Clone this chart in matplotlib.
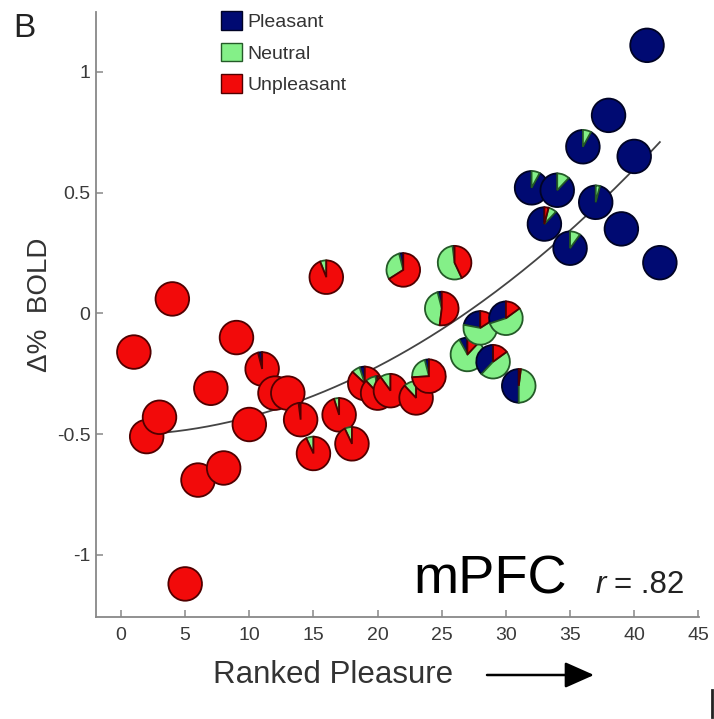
import matplotlib
matplotlib.use("Agg")
import matplotlib.pyplot as plt
import numpy as np
from matplotlib.patches import Wedge, Patch, FancyArrowPatch
from matplotlib.lines import Line2D
from matplotlib.transforms import ScaledTranslation

plt.rcParams['font.family'] = ['Liberation Sans', 'DejaVu Sans']

# ranked pleasure (x) and BOLD change (y) for every picture
rank = list(range(1, 43))
bold = [-0.16, -0.51, -0.43, 0.06, -1.12, -0.69, -0.31, -0.64, -0.10, -0.46,
        -0.23, -0.33, -0.33, -0.44, -0.58, 0.15, -0.42, -0.54, -0.29, -0.33,
        -0.32, 0.18, -0.35, -0.26, 0.02, 0.21, -0.17, -0.06, -0.20, -0.02,
        -0.30, 0.52, 0.37, 0.51, 0.27, 0.69, 0.46, 0.82, 0.35, 0.65,
        1.11, 0.21]

# share of subjects rating each picture pleasant / neutral / unpleasant
share_pleasant = [0, 0, 0, 0, 0, 0, 0, 0, 0, 0,
                  0.04, 0, 0, 0.02, 0, 0, 0, 0, 0.05, 0.02,
                  0, 0.04, 0, 0.04, 0.04, 0.02, 0.08, 0.22, 0.38, 0.30,
                  0.50, 0.92, 0.88, 0.88, 0.90, 0.92, 0.96, 1, 1, 1,
                  1, 1]
share_neutral = [0, 0, 0, 0, 0, 0, 0, 0, 0, 0,
                 0, 0, 0, 0, 0.07, 0.06, 0.05, 0.07, 0.08, 0.10,
                 0.10, 0.30, 0.12, 0.22, 0.44, 0.55, 0.80, 0.62, 0.47, 0.55,
                 0.48, 0.08, 0.08, 0.12, 0.10, 0.08, 0.04, 0, 0, 0,
                 0, 0]
share_unpleasant = [1, 1, 1, 1, 1, 1, 1, 1, 1, 1,
                    0.96, 1, 1, 0.98, 0.93, 0.94, 0.95, 0.93, 0.87, 0.88,
                    0.90, 0.66, 0.88, 0.74, 0.52, 0.43, 0.12, 0.16, 0.15, 0.15,
                    0.02, 0, 0.04, 0, 0, 0, 0, 0, 0, 0,
                    0, 0]

# fitted curve as printed (quadratic, coefficients)
fit_coef = [0.000668, 0.000835, -0.504]
fit_range = [1, 42]

categories = ['Pleasant', 'Neutral', 'Unpleasant']
colors = ['#000a72', '#84f088', '#f20a0a']
edges = ['#000325', '#245a28', '#500000']

W, H = 714, 719
fig = plt.figure(figsize=(W / 100, H / 100), dpi=100)
ax = fig.add_axes([96 / W, 1 - 617 / H, (699 - 96) / W, (617 - 12) / H])
ax.set_xlim(-1.95, 45.05)
ax.set_ylim(-1.257, 1.248)

for s in ['top', 'right']:
    ax.spines[s].set_visible(False)
for s in ['left', 'bottom']:
    ax.spines[s].set_color('#888888')
    ax.spines[s].set_linewidth(1.3)

ax.set_xticks(np.arange(0, 46, 5))
ax.set_yticks([-1, -0.5, 0, 0.5, 1])
ax.set_yticklabels(['-1', '-0.5', '0', '0.5', '1'])
ax.tick_params(direction='in', length=5, width=1.1, color='#888888',
               labelcolor='#3a3a3a', labelsize=14)
ax.tick_params(axis='y', pad=4)
ax.tick_params(axis='x', pad=7)

xx = np.linspace(fit_range[0], fit_range[1], 200)
ax.plot(xx, np.polyval(fit_coef, xx), color='#444444', lw=1.3, zorder=2)

# pie markers, drawn in inches so they stay round
radius = 0.168
for i, (x, y) in enumerate(zip(rank, bold)):
    tr = fig.dpi_scale_trans + ScaledTranslation(x, y, ax.transData)
    fr = [share_pleasant[i], share_neutral[i], share_unpleasant[i]]
    start = 90.0
    for f, c, e in zip(fr, colors, edges):
        if f <= 0:
            continue
        w = Wedge((0, 0), radius, start, start + 360 * f, transform=tr,
                  facecolor=c, edgecolor=e, lw=1.3, zorder=3 + i, clip_on=False)
        ax.add_patch(w)
        start += 360 * f

handles = [Patch(facecolor=c, edgecolor=e, lw=1.0) for c, e in zip(colors, edges)]
fig.legend(handles, categories, loc='upper left', bbox_to_anchor=(221 / W, 1 - 11 / H),
           frameon=False, fontsize=14, handlelength=1.1, handleheight=1.1,
           handletextpad=0.25, labelspacing=0.6, borderpad=0, borderaxespad=0,
           labelcolor='#333333')

fig.text(13 / W, 1 - 37 / H, 'B', fontsize=24, color='#222222', ha='left', va='baseline')
fig.text(40 / W, 1 - 305 / H, 'Δ%  BOLD', fontsize=20, color='#333333',
         rotation=90, ha='center', va='center')
fig.text(213 / W, 1 - 675 / H, 'Ranked Pleasure', fontsize=22.5, color='#333333',
         ha='left', va='center')
arrow = FancyArrowPatch((487 / W, 1 - 675 / H), (594 / W, 1 - 675 / H),
                        transform=fig.transFigure, arrowstyle='-|>,head_length=0.9,head_width=0.4',
                        mutation_scale=20, color='black', lw=1.8, shrinkA=0, shrinkB=0)
fig.patches.append(arrow)

fig.text(413 / W, 1 - 593 / H, 'mPFC', fontsize=39, color='black', ha='left', va='baseline')
fig.text(595 / W, 1 - 593 / H, 'r', fontsize=22.5, style='italic', color='#222222',
         ha='left', va='baseline')
fig.text(614 / W, 1 - 593 / H, '= .82', fontsize=22.5, color='#222222', ha='left', va='baseline')

fig.add_artist(Line2D([712 / W, 712 / W], [1 - 690 / H, 1 - 717 / H], color='#222222', lw=2))

fig.savefig('out.png', dpi=100)
